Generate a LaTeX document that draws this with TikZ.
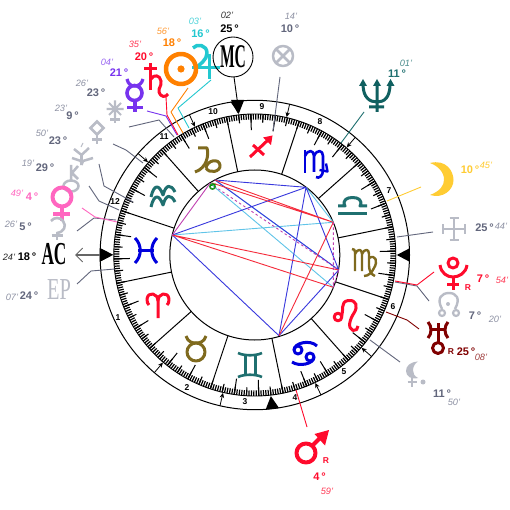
\documentclass[tikz,border=0pt]{standalone}
\usepackage{fontspec}
\setmainfont{Liberation Sans}
\newfontfamily\glyphserif{Liberation Serif}
\usetikzlibrary{arrows.meta}
\definecolor{cbrown}{HTML}{7F6A1E}
\definecolor{cteal}{HTML}{1F7070}
\definecolor{cblue}{HTML}{0000DD}
\definecolor{cred}{HTML}{FF0A2C}
\definecolor{cgray}{HTML}{B9BCC6}
\definecolor{cdgray}{HTML}{62667C}
\definecolor{clgray}{HTML}{8E92A4}
\definecolor{corange}{HTML}{FF8000}
\definecolor{ccyan}{HTML}{22C8D0}
\definecolor{cpurple}{HTML}{7733EE}
\definecolor{cpink}{HTML}{FF66C0}
\definecolor{cyellow}{HTML}{FFCC33}
\definecolor{cnept}{HTML}{106060}
\definecolor{curan}{HTML}{800000}
\definecolor{asred}{HTML}{F52A3A}
\definecolor{asblue}{HTML}{3838DD}
\definecolor{aslight}{HTML}{60C4E8}
\definecolor{asmag}{HTML}{C040B0}
\tikzset{
  deg/.style={font=\fontsize{11}{12}\selectfont\bfseries,inner sep=0pt},
  mnt/.style={font=\fontsize{9.2}{10}\selectfont\itshape,inner sep=0pt},
  housenum/.style={font=\fontsize{8.5}{9}\selectfont\bfseries,inner sep=0pt,text=black},
  rflag/.style={font=\fontsize{8.5}{9}\selectfont\bfseries,inner sep=0pt},
  glyph/.style={line width=3,fill=none,line join=round},
  leader/.style={line width=0.9,line join=round},
  cuspmark/.style={line width=0.8,-{Stealth[length=5pt,width=4.5pt]}},
  aspect/.style={line width=0.9},
}
\begin{document}
\begin{tikzpicture}[x=1pt,y=-1pt]
\useasboundingbox (0,0) rectangle (510,510);
\fill[white] (0,0) rectangle (510,510);
% wheel
\begin{scope}[shift={(254.8,255)}]
  \draw[line width=1] (0,0) circle[radius=154.7];
  \draw[line width=1] (0,0) circle[radius=85];
  \draw[line width=0.9] (0,0) circle[radius=141];
  \foreach \i in {0,1,...,359} {
    \pgfmathsetmacro\tk{-(161.6+\i)}
    \draw[line width=1.2,black] (\tk:135.5) -- (\tk:141);
  }
  \foreach \i in {0,5,...,355} { \pgfmathsetmacro\tk{-(161.6+\i)} \draw[line width=1.1] (\tk:132.5) -- (\tk:141); }
  \foreach \i in {10,20,40,50,70,80,100,110,130,140,160,170,190,200,220,230,250,260,280,290,310,320,340,350} { \pgfmathsetmacro\tk{-(161.6+\i)} \draw[line width=1] (\tk:125) -- (\tk:141); }
  \foreach \i in {0,30,...,330} { \pgfmathsetmacro\tk{-(161.6+\i)} \draw[line width=1] (\tk:85) -- (\tk:141); }
  \foreach \t in {139,115,77,49.5,229.5,257,-64.7,-41} { \draw[cuspmark] (-\t:154.7) -- (-\t:141.5); }
  \foreach \t in {180,0,96.5,276.5} { \fill[black] (-\t:142) -- (-\t-2.5:155) -- (-\t+2.5:155) -- cycle; }
\end{scope}
% house numbers
\node[housenum] (h10) at (213,112) {10};
\node[housenum] (h11) at (164,137) {11};
\node[housenum] (h12) at (115,202) {12};
\node[housenum] (h1) at (118,318) {1};
\node[housenum] (h2) at (187,388) {2};
\node[housenum] (h3) at (245,402) {3};
\node[housenum] (h4) at (295,398) {4};
\node[housenum] (h5) at (344,372) {5};
\node[housenum] (h6) at (393,307) {6};
\node[housenum] (h7) at (389,191) {7};
\node[housenum] (h8) at (320,122) {8};
\node[housenum] (h9) at (262,107) {9};
% aspect points
\coordinate (pa) at (172.3,235);
\coordinate (pb) at (215,180);
\coordinate (pb2) at (210,183.3);
\coordinate (pb3) at (212,183);
\coordinate (pc) at (306,187.3);
\coordinate (pd) at (333.3,222.3);
\coordinate (pe) at (338.7,270);
\coordinate (pf) at (333.3,287.3);
\coordinate (pg) at (279,335.7);
\draw[aspect,aslight] (pc)--(pd) (pa)--(pd) (pb2)--(pf) (pb)--(pe);
\draw[aspect,asblue] (pa)--(pc) (pa)--(pg) (pb)--(pc) (pb)--(pe) (pc)--(pe) (pc)--(pg) (pe)--(pg);
\draw[aspect,asred] (pb)--(pd) (pb3)--(pd) (pa)--(pe) (pa)--(pf) (pg)--(pd);
\draw[aspect,asmag] (pa)--(pb2);
\draw[aspect,asmag,dashed,dash pattern=on 2.5pt off 2.5pt] (pb2)--(pe) (pd)--(pf) (pf)--(pe);
\draw[line width=1.6,green!50!black!85] (212.5,186.5) circle[radius=2.6];
\draw[line width=0.7,green!60!black] (210,186) -- (216,184);
% leaders
\coordinate (ju1) at (211,80); \coordinate (ju2) at (178,108); \coordinate (ju3) at (189,128);
\coordinate (su1) at (188,88); \coordinate (su2) at (171,112); \coordinate (su3) at (183,133);
\coordinate (sa1) at (166,97); \coordinate (sa2) at (167,115); \coordinate (sa3) at (178,135);
\coordinate (me1) at (147,111); \coordinate (me2) at (166,116); \coordinate (me3) at (177,135);
\coordinate (st1) at (129,127); \coordinate (st2) at (159,120); \coordinate (st3) at (174,137);
\coordinate (di1) at (113,144); \coordinate (di2) at (126,150); \coordinate (di3) at (143,163);
\coordinate (ch1) at (99,164); \coordinate (ch2) at (104,186); \coordinate (ch3) at (133,202);
\coordinate (ke1) at (89,186); \coordinate (ke2) at (99,201); \coordinate (ke3) at (119,210);
\coordinate (ve1) at (82,208); \coordinate (ve2) at (95,217); \coordinate (ve3) at (117,222);
\coordinate (pr1) at (77,231); \coordinate (pr2) at (94,218); \coordinate (pr3) at (116,220);
\coordinate (ep1) at (77,284); \coordinate (ep2) at (91,271); \coordinate (ep3) at (115,269);
\coordinate (pl1) at (434,272); \coordinate (pl2) at (417,285); \coordinate (pl3) at (395,281);
\coordinate (no1) at (429,301); \coordinate (no2) at (417,286); \coordinate (no3) at (395,282);
\coordinate (ur1) at (419,329); \coordinate (ur2) at (407,320); \coordinate (ur3) at (386,312);
\coordinate (li1) at (400,362); \coordinate (li2) at (370,340);
\coordinate (ma1) at (307,427); \coordinate (ma2) at (296,390);
\coordinate (ex1) at (280,77); \coordinate (ex2) at (273,131);
\coordinate (ne1) at (364,112); \coordinate (ne2) at (341,143);
\coordinate (mo1) at (421,187); \coordinate (mo2) at (387,201);
\coordinate (cr1) at (433,232); \coordinate (cr2) at (397,237);
\coordinate (mc1) at (234,77); \coordinate (mc2) at (238,106);
\coordinate (ac1) at (112,255); \coordinate (ac2) at (75,255);
\draw[leader,cdgray] (st1)--(st2)--(st3);
\draw[leader,cdgray] (di1)--(di2)--(di3);
\draw[leader,cdgray] (ch1)--(ch2)--(ch3);
\draw[leader,cdgray] (ke1)--(ke2)--(ke3);
\draw[leader,cdgray] (pr1)--(pr2)--(pr3);
\draw[leader,cpink] (ve1)--(ve2)--(ve3);
\draw[leader,cdgray] (ep1)--(ep2)--(ep3);
\draw[leader,ccyan] (ju1)--(ju2)--(ju3);
\draw[leader,corange] (su1)--(su2)--(su3);
\draw[leader,cpurple] (me1)--(me2)--(me3);
\draw[leader,cred] (sa1)--(sa2)--(sa3);
\draw[leader,cdgray] (no1)--(no2)--(no3);
\draw[leader,cred] (pl1)--(pl2)--(pl3);
\draw[leader,curan] (ur1)--(ur2)--(ur3);
\draw[leader,cdgray] (li1)--(li2);
\draw[leader,cred] (ma1)--(ma2);
\draw[leader,cdgray] (ex1)--(ex2);
\draw[leader,cteal] (ne1)--(ne2);
\draw[leader,cyellow] (mo1)--(mo2);
\draw[leader,cdgray] (cr1)--(cr2);
\draw[leader,black] (mc1)--(mc2);
\draw[line width=1.3,black!60,-{Straight Barb[length=7pt,width=14pt,line width=0.9pt]}] (ac1)--(ac2);
\fill[black] (113,254.7) -- (100,248) -- (100,261.5) -- cycle;
\fill[black] (237.6,113) -- (231,100) -- (244,100) -- cycle;
% --- zodiac
\draw[glyph,cbrown] (198,148) -- (207,148) .. controls (209,155) and (207,168) .. (195,172);
\draw[glyph,cbrown] (206,168) .. controls (207,160) and (219,158) .. (220,165) .. controls (221,172) and (209,174) .. (206,168);
\draw[glyph,cteal] (151,197) .. controls (154,184) and (159,184) .. (163,195) .. controls (166,184) and (171,184) .. (175,192);
\draw[glyph,cteal] (151,207) .. controls (154,194) and (159,194) .. (163,205) .. controls (166,194) and (171,194) .. (175,202);
\draw[glyph,cblue] (135,238) .. controls (142,245) and (142,256) .. (135,263);
\draw[glyph,cblue] (157,238) .. controls (150,245) and (150,256) .. (157,263);
\draw[glyph,cblue] (138,250.5) -- (154,250.5);
\draw[glyph,cred] (158,318) -- (158,301) .. controls (158,293) and (148,291) .. (147,299) .. controls (146.5,302) and (148,304) .. (149,305);
\draw[glyph,cred] (158,301) .. controls (158,293) and (168,291) .. (169,299) .. controls (169.5,302) and (168,304) .. (167,305);
\draw[glyph,cbrown] (196,352) circle[radius=9];
\draw[glyph,cbrown] (186,336) .. controls (188,342) and (192,343) .. (196,343) .. controls (200,343) and (204,342) .. (206,336);
\draw[glyph,cteal,line width=2.6] (238,353) .. controls (244,356) and (256,356) .. (262,353);
\draw[glyph,cteal,line width=2.6] (238,377) .. controls (244,374) and (256,374) .. (262,377);
\draw[glyph,cteal,line width=3] (245,355) -- (245,375) (255,355) -- (255,375);
\draw[glyph,cblue] (298,350) circle[radius=4];
\draw[glyph,cblue] (294,350) .. controls (294,343) and (310,339) .. (317,346);
\draw[glyph,cblue] (310,357) circle[radius=4];
\draw[glyph,cblue] (314,357) .. controls (314,364) and (299,367) .. (292,362);
\draw[glyph,cred] (338,317) circle[radius=3.8];
\draw[glyph,cred] (341.5,317) .. controls (344,310) and (340,302) .. (348,300.5) .. controls (357,299.5) and (358,307) .. (354,313) .. controls (350,319) and (347,328) .. (353,330.5) .. controls (356,331) and (358,329) .. (358,326);
\draw[glyph,cbrown,line width=2.4] (352,249) .. controls (354,249) and (355,250) .. (355,252) -- (355,271);
\draw[glyph,cbrown,line width=2.4] (355,254) .. controls (358,248) and (362,249) .. (362,254) -- (362,271);
\draw[glyph,cbrown,line width=2.4] (362,254) .. controls (365,248) and (369,249) .. (369,254) -- (369,266) .. controls (369,271) and (372,275) .. (375,276);
\draw[glyph,cbrown,line width=2.4] (369,258) .. controls (376,254) and (378,262) .. (374,268) .. controls (372,272) and (369,276) .. (364,276);
\draw[glyph,cteal] (338,213.5) -- (367,213.5);
\draw[glyph,cteal] (338,206) -- (345,206) .. controls (342,200) and (347,197.5) .. (352.5,197.5) .. controls (358,197.5) and (363,200) .. (360,206) -- (367,206);
\draw[glyph,cblue,line width=2.6] (305,150) -- (305,173);
\draw[glyph,cblue,line width=2.6] (305,156) .. controls (308,149) and (314,150) .. (314,156) -- (314,172);
\draw[glyph,cblue,line width=2.6] (314,156) .. controls (317,149) and (323,150) .. (323,156) -- (323,170) .. controls (323,176) and (319,179) .. (316,177);
\draw[glyph,cblue,line width=2.4] (319.5,170) -- (327.5,171.5) -- (326,163.5);
\draw[glyph,cred] (250,157) -- (268,140);
\fill[cred] (272.5,135.5) -- (271,145) -- (263,137.5) -- cycle;
\draw[glyph,cred] (253,145) -- (264,155);
% --- planets
\draw[glyph,cgray,line width=2.5] (283,56) circle[radius=10];
\draw[cgray,line width=2.5] (276,49) -- (290,63) (290,49) -- (276,63);
\draw[cnept,line width=3,fill=none] (363,84) .. controls (363,98) and (370,102) .. (377,102) .. controls (384,102) and (390,98) .. (390,84) (377,84)--(377,112) (369,107)--(384,107);
\fill[cnept] (363,79) -- (359,86) -- (367,86) -- cycle (377,79) -- (373,86) -- (381,86) -- cycle (390.5,79) -- (386.5,86) -- (394.5,86) -- cycle;
\fill[cyellow] (430,163) .. controls (446,159) and (453.5,171) .. (453.5,180) .. controls (453.5,190) and (443,199) .. (430,195) .. controls (440,191) and (444,186) .. (444,179.5) .. controls (444,172) and (438,166) .. (430,163) -- cycle;
\draw[cgray,line width=2.5] (454,218)--(454,240) (443,229)--(465,229) (449.5,218)--(458.5,218) (449.5,240)--(458.5,240) (443,224.5)--(443,233.5) (465,224.5)--(465,233.5);
\draw[glyph,cred] (453,263) circle[radius=5];
\draw[glyph,cred] (440,265) .. controls (441,273) and (447,277) .. (453,277) .. controls (459,277) and (466,273) .. (467,265);
\draw[glyph,cred] (453,277)--(453,290) (447,284)--(459,284);
\draw[glyph,cgray,line width=2.4] (442,309) .. controls (436,298) and (442,293) .. (449,293) .. controls (456,293) and (461,298) .. (455,309);
\draw[glyph,cgray,line width=2.2] (442,313) circle[radius=3] (456,313) circle[radius=3];
\fill[cgray] (448,304) circle[radius=2];
\draw[glyph,curan] (438,348) circle[radius=5.5];
\draw[glyph,curan] (438,323)--(438,342) (431,329)--(445,329);
\draw[glyph,curan] (428,322) .. controls (432,326) and (432,334) .. (428,338);
\draw[glyph,curan] (448,322) .. controls (444,326) and (444,334) .. (448,338);
\fill[cgray] (418,361.5) .. controls (410,362) and (406,366) .. (406,371) .. controls (406,376) and (411,380) .. (418,378) .. controls (414,376) and (413,373) .. (413,370) .. controls (413,367) and (415,363) .. (418,361.5) -- cycle;
\draw[cgray,line width=2.4] (412,377)--(412,386.5) (407.5,382)--(417,382);
\fill[cgray] (423,382) circle[radius=2.5];
\draw[glyph,cred,line width=4] (306,453) circle[radius=9.5];
\draw[glyph,cred,line width=4] (312,446)--(322,436);
\fill[cred] (329,430) -- (314.5,434) -- (325,445.5) -- cycle;
\draw[glyph,ccyan,line width=3.5] (193,48) .. controls (197,43) and (207,45) .. (207,53) .. controls (207,60) and (200,64) .. (195,69);
\draw[glyph,ccyan,line width=3.5] (192,67.5)--(220,67.5) (209.5,54)--(209.5,79);
\draw[glyph,corange,line width=4.5] (181,69) circle[radius=15];
\fill[corange] (181,69) circle[radius=3.6];
\draw[glyph,cred] (150,63)--(150,90) (144,69)--(157,69);
\draw[glyph,cred] (151,79) .. controls (154,74) and (160,75) .. (161,81) .. controls (162,86) and (158,88) .. (159,92) .. controls (160,97) and (166,98) .. (168,94);
\draw[glyph,cpurple,line width=3.6] (134.5,93) circle[radius=7.5];
\draw[glyph,cpurple,line width=3.2] (127,79) .. controls (128,84) and (131,86) .. (134.5,86) .. controls (138,86) and (142,84) .. (143,79);
\draw[glyph,cpurple,line width=3.2] (135,101)--(135,112) (127,107.5)--(143,107.5);
\draw[cgray,line width=2.1] (115,100.5)--(115,117.5) (106.5,109)--(123.5,109) (109,103)--(121,115) (121,103)--(109,115);
\draw[cgray,line width=2.1] (115,116)--(115,123) (110,119.5)--(120,119.5);
\draw[cgray,line width=2.5,line join=miter] (97,121.5)--(103.5,128)--(97,134.5)--(90.5,128)--cycle;
\draw[cgray,line width=2.5] (97,134)--(97,144) (92,139.5)--(102,139.5);
\draw[cgray,line width=1.1] (83,143)--(81,147);
\draw[cgray,line width=2.5] (74,149)--(81.5,155)--(89,148);
\draw[cgray,line width=2.5] (72,158)--(81,161)--(81.5,165) (93,158)--(83,161)--(81.5,165);
\draw[cgray,line width=2.5] (81.5,154)--(81.5,160);
\draw[cgray,line width=2.5] (71,165)--(71,180) (78,166)--(72,173)--(78,179);
\draw[cgray,line width=2.5] (71,186) ellipse[x radius=7.5,y radius=5.5];
\draw[glyph,cpink,line width=4] (62,197) circle[radius=9.5];
\draw[glyph,cpink,line width=3.6] (62,206)--(62,221) (53,214)--(69.5,214);
\draw[cgray,line width=2.6,line join=round] (51,221) .. controls (54,217) and (60,217) .. (63,221) .. controls (67,226) and (64,232) .. (57,233);
\draw[cgray,line width=2.4] (57,232)--(57,240) (51.5,235.5)--(63,235.5);
% --- text
\node[inner sep=0pt] (tmc) at (233,57) {\scalebox{0.65}[1.38]{\fontsize{24}{24}\glyphserif\bfseries MC}};
\draw[line width=0.9] (233,57) circle[radius=20];
\node[inner sep=0pt] (tac) at (54,254.5) {\scalebox{0.72}[1.33]{\fontsize{24}{24}\glyphserif\bfseries AC}};
\node[inner sep=0pt,text=cgray] (tep) at (59,290) {\scalebox{0.85}[1.27]{\fontsize{24}{24}\glyphserif EP}};
\node[mnt,text=black!80] (m1) at (227,15) {02'};
\node[deg,text=black] (d1) at (229.5,29) {25\,°};
\node[mnt,text=ccyan!80] (m2) at (195,21) {03'};
\node[deg,text=ccyan] (d2) at (200.5,34) {16\,°};
\node[mnt,text=corange!80] (m3) at (163,31) {56'};
\node[deg,text=corange] (d3) at (172,43) {18\,°};
\node[mnt,text=cred!80] (m4) at (135,44) {35'};
\node[deg,text=cred] (d4) at (144,57) {20\,°};
\node[mnt,text=cpurple!75] (m5) at (107,62) {04'};
\node[deg,text=cpurple] (d5) at (119,73) {21\,°};
\node[mnt,text=clgray] (m6) at (82,83) {26'};
\node[deg,text=cdgray] (d6) at (96,93) {23\,°};
\node[mnt,text=clgray] (m7) at (61,108) {23'};
\node[deg,text=cdgray] (d7) at (72.5,116) {9\,°};
\node[mnt,text=clgray] (m8) at (42,133) {50'};
\node[deg,text=cdgray] (d8) at (58,141) {23\,°};
\node[mnt,text=clgray] (m9) at (28,163) {19'};
\node[deg,text=cdgray] (d9) at (45,168) {29\,°};
\node[mnt,text=cpink] (m10) at (17,193) {49'};
\node[deg,text=cpink] (d10) at (32,197) {4\,°};
\node[mnt,text=clgray] (m11) at (11,224) {26'};
\node[deg,text=cdgray] (d11) at (25.5,227) {5\,°};
\node[mnt,text=black!85] (m12) at (9,257) {24'};
\node[deg,text=black] (d12) at (27,257) {18\,°};
\node[mnt,text=clgray] (m13) at (12,297) {07'};
\node[deg,text=cdgray] (d13) at (29,296) {24\,°};
\node[mnt,text=clgray] (m14) at (291,16) {14'};
\node[deg,text=cdgray] (d14) at (290,29) {10\,°};
\node[mnt,text=cteal!80] (m15) at (406,63) {01'};
\node[deg,text=cteal] (d15) at (397,74) {11\,°};
\node[deg,text=cyellow] (d16) at (470,170) {10\,°};
\node[mnt,text=cyellow] (m16) at (486,165) {45'};
\node[deg,text=cdgray] (d17) at (484.5,228) {25\,°};
\node[mnt,text=clgray] (m17) at (501,226) {44'};
\node[rflag,text=cred] (r1) at (468,288) {R};
\node[deg,text=cred] (d18) at (483,279) {7\,°};
\node[mnt,text=cred!80] (m18) at (502,280) {54'};
\node[deg,text=cdgray] (d19) at (475,316) {7\,°};
\node[mnt,text=clgray] (m19) at (495,319) {20'};
\node[rflag,text=curan] (r2) at (451,352) {R};
\node[deg,text=curan] (d20) at (466,352) {25\,°};
\node[mnt,text=curan!75] (m20) at (481,357) {08'};
\node[deg,text=cdgray] (d21) at (442,394) {11\,°};
\node[mnt,text=clgray] (m21) at (454,402) {50'};
\node[rflag,text=cred] (r3) at (326,461) {R};
\node[deg,text=cred] (d22) at (319.5,477) {4\,°};
\node[mnt,text=cred!80] (m22) at (327,491) {59'};
\end{tikzpicture}
\end{document}
